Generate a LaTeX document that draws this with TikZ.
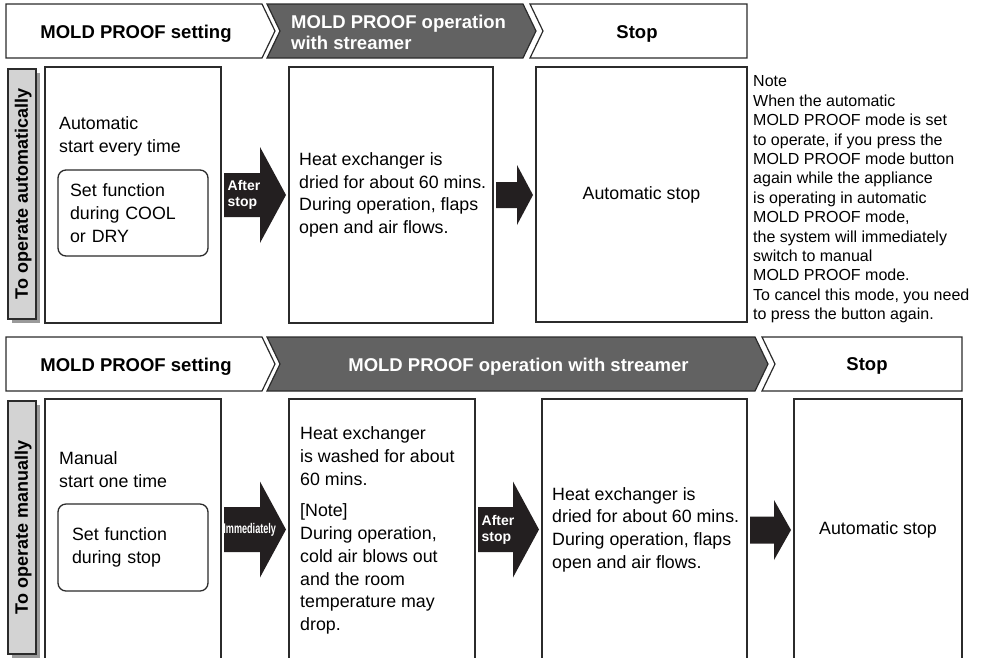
\documentclass[tikz,border=0pt]{standalone}
\usepackage{fontspec}
\setmainfont{Liberation Sans}
\usepackage{tikz}
\usetikzlibrary{calc, positioning, shadows}
\definecolor{lineink}{HTML}{2B2B2B}
\definecolor{headdark}{HTML}{626262}
\definecolor{sidefill}{HTML}{D3D3D3}
\definecolor{sideshade}{HTML}{9A9A9A}
\definecolor{arrowink}{HTML}{231F20}
\newcommand\bodysize{\fontsize{17.8}{22.7}\selectfont}
\newcommand\notesize{\fontsize{16}{19.4}\selectfont}
\newcommand\headsize{\fontsize{18.5}{21.7}\selectfont\bfseries}
\newcommand\tagsize{\fontsize{14}{16}\selectfont\bfseries}
\tikzset{
  mbox/.style={draw=lineink, line width=1.3pt, fill=white, inner sep=0pt, outer sep=0pt, anchor=north west, font=\bodysize},
  mcard/.style={mbox, rounded corners=8pt, align=left},
  mtext/.style={inner sep=0pt, anchor=west, align=left, font=\bodysize},
  mnote/.style={mtext, font=\notesize},
  mside/.style={draw=lineink, line width=2.4pt, fill=sidefill, inner sep=0pt, anchor=north west,
    general shadow={draw=none, fill=sideshade, shadow xshift=4pt, shadow yshift=-4pt}},
  mvert/.style={rotate=90, inner sep=0pt, font=\fontsize{18}{20}\selectfont\bfseries},
  mhead/.style={draw=lineink, line width=1.2pt, fill=white},
  mheaddark/.style={mhead, fill=headdark},
  mflow/.style={fill=arrowink},
  mtag/.style={inner sep=0pt, text=white, font=\tagsize, align=left},
  mtitle/.style={inner sep=0pt, font=\headsize},
}
% block arrow from one box to the next: from, to, y, body half, head half, head length
\newcommand\fatarrow[6]{%
  \fill[mflow] let \p1=(#1.east), \p2=(#2.west) in
    (\x1+3pt,-#3pt+#4pt) -- (\x2-3pt-#6pt,-#3pt+#4pt) -- (\x2-3pt-#6pt,-#3pt+#5pt)
    -- (\x2-3pt,-#3pt) -- (\x2-3pt-#6pt,-#3pt-#5pt) -- (\x2-3pt-#6pt,-#3pt-#4pt)
    -- (\x1+3pt,-#3pt-#4pt) -- cycle;}

\begin{document}
\begin{tikzpicture}[x=1pt, y=-1pt]
  \useasboundingbox (0,0) rectangle (981,657);
  \clip (0,0) rectangle (981,657);

  % automatic row: headers
  \draw[mhead] (6,4) -- (262,4) -- (275,31) -- (262,58) -- (6,58) -- cycle;
  \draw[mheaddark] (267,4) -- (523,4) -- (536,31) -- (523,58) -- (267,58) -- (280,31) -- cycle;
  \draw[mhead] (530,4) -- (747,4) -- (747,58) -- (530,58) -- (543,31) -- cycle;
  \node[mtitle] (ha) at (136,33.5) {MOLD PROOF setting};
  \node[mtitle, text=white, anchor=west, align=left] (hb) at (291,32.5) {MOLD PROOF operation\\with streamer};
  \node[mtitle] (hc) at (637,33.5) {Stop};

  % automatic row: boxes
  \node[mside, minimum width=28, minimum height=250] (s1) at (7,68) {};
  \node[mvert] at ($(s1.center)+(1,0)$) {To operate automatically};
  \node[mbox, minimum width=176, minimum height=256] (b1) at (45,67) {};
  \node[mtext] (t1) at ($(b1.north west)+(14,69.5)$) {Automatic\\start every time};
  \node[mcard, minimum width=150, minimum height=86, text width=126] (i1) at (58,170) {Set function\\during COOL\\or DRY};
  \node[mbox, minimum width=204, minimum height=256] (b2) at (289,67) {};
  \node[mtext] (t2) at ($(b2.west)+(10,0)$) {Heat exchanger is\\dried for about 60 mins.\\During operation, flaps\\open and air flows.};
  \node[mbox, minimum width=211, minimum height=255] (b3) at (536,67) {Automatic stop};
  \node[mnote] (note) at (753,199.5) {Note\\When the automatic\\MOLD PROOF mode is set\\to operate, if you press the\\MOLD PROOF mode button\\again while the appliance\\is operating in automatic\\MOLD PROOF mode,\\the system will immediately\\switch to manual\\MOLD PROOF mode.\\To cancel this mode, you need\\to press the button again.};

  \fatarrow{b1}{b2}{195}{22}{48}{26}
  \fatarrow{b2}{b3}{195}{13}{30}{16}
  \node[mtag, anchor=west] (g1) at ($(b1.east)+(6.5,0)$) {After\\stop};

  % manual row: headers
  \draw[mhead] (6,337) -- (262,337) -- (275,364) -- (262,391) -- (6,391) -- cycle;
  \draw[mheaddark] (267,337) -- (755,337) -- (768,364) -- (755,391) -- (267,391) -- (280,364) -- cycle;
  \draw[mhead] (762,337) -- (962,337) -- (962,391) -- (762,391) -- (775,364) -- cycle;
  \node[mtitle] (ka) at (136,366.3) {MOLD PROOF setting};
  \node[mtitle, text=white] (kb) at (518.5,366.3) {MOLD PROOF operation with streamer};
  \node[mtitle] (kc) at (867,365.5) {Stop};

  % manual row: boxes
  \node[mside, minimum width=28, minimum height=253] (s2) at (7,400) {};
  \node[mvert] at ($(s2.center)+(1,0)$) {To operate manually};
  \node[mbox, minimum width=176, minimum height=261] (c1) at (45,399) {};
  \node[mtext] (u1) at ($(c1.north west)+(14,70.5)$) {Manual\\start one time};
  \node[mcard, minimum width=150, minimum height=87, text width=122] (i2) at (58,504) {Set function\\during stop};
  \node[mbox, minimum width=186, minimum height=261] (c2) at (289,399) {};
  \node[mtext] (u2) at ($(c2.west)+(11,1)$) {Heat exchanger\\is washed for about\\60 mins.\\[9pt]{[Note]}\\During operation,\\cold air blows out\\and the room\\temperature may\\drop.};
  \node[mbox, minimum width=205, minimum height=261] (c3) at (542,399) {};
  \node[mtext] (u3) at ($(c3.west)+(10,0)$) {Heat exchanger is\\dried for about 60 mins.\\During operation, flaps\\open and air flows.};
  \node[mbox, minimum width=168, minimum height=261] (c4) at (794,399) {Automatic stop};

  \fatarrow{c1}{c2}{529.5}{22.5}{48}{26}
  \fatarrow{c2}{c3}{529.5}{22.5}{48}{26}
  \fatarrow{c3}{c4}{530}{13.5}{30}{17}
  \node[mtag] (g2) at ($(c1.east)+(28.7,0)$) {\scalebox{0.65}[1]{Immediately}};
  \node[mtag, anchor=west] (g3) at ($(c2.east)+(6.5,0)$) {After\\stop};
\end{tikzpicture}
\end{document}
